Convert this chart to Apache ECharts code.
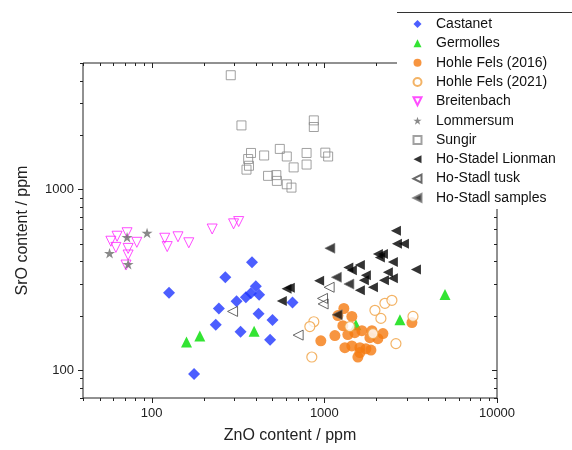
<!DOCTYPE html>
<html>
<head>
<meta charset="utf-8">
<script src="https://cdn.jsdelivr.net/npm/echarts@6/dist/echarts.min.js"></script>
<style>
html,body{margin:0;padding:0;background:#fff;}
#chart{width:572px;height:450px;}
</style>
</head>
<body>
<div id="chart"></div>
<script>
// ---- data: [ZnO ppm, SrO ppm] ----
const castanet = [[381,395],[267,326],[126,268],[401,291],[419,261],[351,253],[375,266],[310,240],[654,236],[245,219],[416,205],[501,189],[235,178],[327,163],[485,147],[176,95]];
const germolles = [[159,143],[190,154],[392,164],[1523,178],[2740,190],[5000,262]];
const hohleFels2016 = [[1297,219],[1443,198],[1280,176],[1151,155],[954,145],[1368,157],[1502,161],[1650,165],[1886,165],[2184,159],[2042,149],[1315,133],[1443,136],[1606,133],[1740,131],[1861,129],[1564,118],[1606,125],[3216,183],[1198,200],[1836,151]];
const hohleFels2021 = [[869,185],[824,174],[846,118],[1963,214],[2126,193],[2243,234],[2462,243],[1911,159],[2598,140],[3261,198],[1405,174]];
const breitenbach = [[58,516],[63,550],[72,575],[62,477],[82,509],[73,471],[73,433],[71,381],[119,536],[123,482],[142,546],[164,506],[224,603],[298,644],[319,663]];
const lommersum = [[94,573],[72,543],[57,443],[73,385]];
const sungir = [[287,4279],[331,2257],[869,2407],[869,2212],[376,1589],[362,1471],[366,1350],[354,1285],[448,1539],[552,1673],[606,1519],[664,1322],[789,1589],[789,1371],[1013,1595],[1052,1519],[472,1187],[527,1198],[531,1113],[606,1066],[645,1022]];
const lionman = [[2597,590],[2632,499],[2890,499],[2042,439],[2184,439],[2097,420],[2495,396],[3391,360],[1377,369],[1606,381],[1443,357],[2334,348],[2495,322],[1740,335],[933,312],[1694,314],[1911,287],[1606,276],[2213,314],[604,282],[631,285],[567,241]];
const tusk = [[294,211],[976,249],[984,232],[705,156],[1066,287]];
const samples = [[1076,472],[1174,326],[1387,299],[1187,202]];

const seriesNames = ['Castanet','Germolles','Hohle Fels (2016)','Hohle Fels (2021)','Breitenbach','Lommersum','Sungir','Ho-Stadel Lionman','Ho-Stadl tusk','Ho-Stadl samples'];
const xTickLabels = [100, 1000, 10000];
const yTickLabels = [100, 1000];

const FONT = '"Liberation Sans", Arial, sans-serif';
const LEFT_TRI = 'path://M0,5L10,0L10,10Z';
const DOWN_TRI = 'path://M0,0L10,0L5,10Z';
const UP_TRI = 'path://M5,0L10,10L0,10Z';
const DIAMOND = 'path://M5,0L10,5L5,10L0,5Z';
const SQUARE = 'path://M0,0L10,0L10,10L0,10Z';
const STAR = 'path://M5,0L6.2,3.6L10,3.6L6.9,5.9L8.1,9.6L5,7.4L1.9,9.6L3.1,5.9L0,3.6L3.8,3.6Z';

const chart = echarts.init(document.getElementById('chart'), null, {renderer: 'canvas'});

function mk(name, data, symbol, size, itemStyle) {
  return {name, type: 'scatter', data, symbol, symbolSize: size, symbolKeepAspect: true, itemStyle, emphasis: {disabled: true}};
}

const option = {
  animation: false,
  backgroundColor: '#fff',
  textStyle: {fontFamily: FONT},
  grid: {left: 83, right: 75, top: 63, bottom: 52, show: true, borderColor: '#222', borderWidth: 1, backgroundColor: 'transparent'},
  xAxis: {
    type: 'log', logBase: 10, min: 40, max: 10000,
    name: 'ZnO content / ppm', nameLocation: 'middle', nameGap: 30,
    nameTextStyle: {fontSize: 16, color: '#222', fontFamily: FONT},
    axisLine: {show: false}, axisTick: {show: false}, splitLine: {show: false},
    axisLabel: {fontSize: 13, color: '#222', margin: 9, fontFamily: FONT,
      formatter: v => xTickLabels.includes(Math.round(v)) ? String(Math.round(v)) : ''}
  },
  yAxis: {
    type: 'log', logBase: 10, min: 70, max: 5000,
    name: 'SrO content / ppm', nameLocation: 'middle', nameGap: 52,
    nameTextStyle: {fontSize: 16, color: '#222', fontFamily: FONT},
    axisLine: {show: false}, axisTick: {show: false}, splitLine: {show: false},
    axisLabel: {fontSize: 13, color: '#222', margin: 9, fontFamily: FONT,
      formatter: v => yTickLabels.includes(Math.round(v)) ? String(Math.round(v)) : ''}
  },
  legend: {
    data: seriesNames,
    orient: 'vertical', left: 397, top: 12,
    padding: [4, 8, 3, 15.5],
    itemWidth: 27, itemHeight: 8, itemGap: 3.33,
    symbolKeepAspect: true,
    backgroundColor: '#fff', borderWidth: 0,
    textStyle: {fontSize: 14, color: '#111', lineHeight: 16, fontFamily: FONT},
    selectedMode: false
  },
  series: [
    mk('Sungir', sungir, SQUARE, 9, {color: 'transparent', borderColor: '#8a8a8a', borderWidth: 1}),
    mk('Breitenbach', breitenbach, DOWN_TRI, 10, {color: 'transparent', borderColor: '#ff22ff', borderWidth: 1}),
    mk('Lommersum', lommersum, STAR, 11, {color: '#6b6b6b'}),
    mk('Castanet', castanet, DIAMOND, 12, {color: '#1f36ff'}),
    mk('Germolles', germolles, UP_TRI, 11, {color: '#00dd00'}),
    mk('Hohle Fels (2016)', hohleFels2016, 'circle', 11, {color: '#f57a10'}),
    mk('Hohle Fels (2021)', hohleFels2021, 'circle', 10, {color: '#fff', borderColor: '#f0a040', borderWidth: 1.2}),
    mk('Ho-Stadel Lionman', lionman, LEFT_TRI, 10, {color: '#000'}),
    mk('Ho-Stadl tusk', tusk, LEFT_TRI, 10, {color: 'transparent', borderColor: '#444', borderWidth: 1}),
    mk('Ho-Stadl samples', samples, LEFT_TRI, 10, {color: '#111', borderColor: '#777', borderWidth: 0.8})
  ]
};
chart.setOption(option);

// axis ticks (major at decades, minor at 2..9) positioned through the axes' own scales
function buildTicks() {
  const els = [];
  const xL = chart.convertToPixel({xAxisIndex: 0}, 40);
  const xR = chart.convertToPixel({xAxisIndex: 0}, 10000);
  const yB = chart.convertToPixel({yAxisIndex: 0}, 70);
  const yT = chart.convertToPixel({yAxisIndex: 0}, 5000);
  const style = {stroke: '#222', lineWidth: 1};
  const line = (x1, y1, x2, y2) => els.push({type: 'line', z: 3, silent: true, shape: {x1, y1, x2, y2}, style});
  for (let d = 1; d <= 4; d++) {
    for (let m = 1; m <= 9; m++) {
      const v = m * Math.pow(10, d);
      if (v < 40 || v > 10000) continue;
      const p = Math.round(chart.convertToPixel({xAxisIndex: 0}, v)) + 0.5;
      const len = m === 1 ? 5 : 3;
      line(p, yB, p, yB + len);
      line(p, yT, p, yT + len);
    }
  }
  for (let d = 1; d <= 3; d++) {
    for (let m = 1; m <= 9; m++) {
      const v = m * Math.pow(10, d);
      if (v < 70 || v > 5000) continue;
      const p = Math.round(chart.convertToPixel({yAxisIndex: 0}, v)) + 0.5;
      const len = m === 1 ? 5 : 3;
      line(xL, p, xL - len, p);
      line(xR, p, xR - len, p);
    }
  }
  // legend box top border
  els.push({type: 'line', z: 10, silent: true, shape: {x1: 397, y1: 12.5, x2: 572, y2: 12.5}, style: {stroke: '#333', lineWidth: 1}});
  chart.setOption({graphic: els});
}
buildTicks();
</script>
</body>
</html>
